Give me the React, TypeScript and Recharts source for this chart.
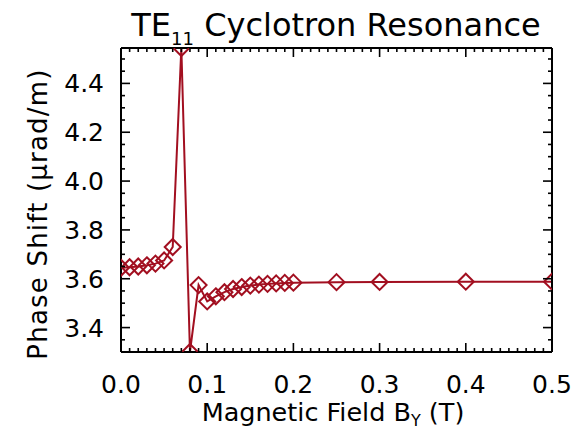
import { LineChart, Line, XAxis, YAxis } from "recharts";

// Magnetic field B_Y (T) and phase shift (µrad/m)
const fieldT = [
  0, 0.01, 0.02, 0.03, 0.04, 0.05, 0.06, 0.07, 0.08, 0.09, 0.1, 0.11, 0.12,
  0.13, 0.14, 0.15, 0.16, 0.17, 0.18, 0.19, 0.2, 0.25, 0.3, 0.4, 0.5,
];
const phaseShift = [
  3.645, 3.647, 3.65, 3.655, 3.662, 3.675, 3.73, 4.545, 3.3, 3.574, 3.507,
  3.528, 3.545, 3.558, 3.566, 3.572, 3.576, 3.579, 3.581, 3.583, 3.584, 3.586,
  3.587, 3.588, 3.588,
];

const xMajorTicks = [0, 0.1, 0.2, 0.3, 0.4, 0.5];
const yMajorTicks = [3.4, 3.6, 3.8, 4.0, 4.2, 4.4];
const xDomain: [number, number] = [0, 0.5];
const yDomain: [number, number] = [3.3, 4.545];
const xMinorStep = 0.01;
const yMinorStep = 0.05;

const RED = "#A20F20";
const FONT = "'DejaVu Sans', sans-serif";

const data = fieldT.map((x, i) => ({ x, y: phaseShift[i] }));

function stepTicks(lo: number, hi: number, step: number) {
  const out: number[] = [];
  const n = Math.floor((hi - lo) / step + 1e-6);
  for (let i = 0; i <= n; i++) out.push(Math.round((lo + i * step) * 1000) / 1000);
  return out;
}
const xTicks = stepTicks(xDomain[0], xDomain[1], xMinorStep);
const yTicks = stepTicks(yDomain[0], yDomain[1], yMinorStep);

const isMajor = (v: number, majors: number[]) =>
  majors.some((m) => Math.abs(m - v) < 1e-6);

const MAJOR = 9;
const MINOR = 4;

// inward IDL-style ticks, labels only on the bottom / left majors
function Tick(props: any) {
  const { x, y, payload, side } = props;
  const v = payload.value as number;
  const major = isMajor(v, side === "bottom" || side === "top" ? xMajorTicks : yMajorTicks);
  const len = major ? MAJOR : MINOR;
  const ln = { stroke: "#000", strokeWidth: 1.6 };
  let line;
  if (side === "bottom") line = <line {...ln} x1={x} x2={x} y1={y} y2={y - len} />;
  else if (side === "top") line = <line {...ln} x1={x} x2={x} y1={y} y2={y + len} />;
  else if (side === "left") line = <line {...ln} x1={x} x2={x + len} y1={y} y2={y} />;
  else line = <line {...ln} x1={x} x2={x - len} y1={y} y2={y} />;
  return (
    <g>
      {line}
      {major && side === "bottom" && (
        <text x={x} y={y + 41} textAnchor="middle" fontSize={25} fill="#000" fontFamily={FONT}>
          {v.toFixed(1)}
        </text>
      )}
      {major && side === "left" && (
        <text x={x - 17} y={y + 9} textAnchor="end" fontSize={25} fill="#000" fontFamily={FONT}>
          {v.toFixed(1)}
        </text>
      )}
    </g>
  );
}

function Diamond(props: any) {
  const { cx, cy, index } = props;
  const r = 8;
  return (
    <path
      key={index}
      d={`M${cx},${cy - r}L${cx + r},${cy}L${cx},${cy + r}L${cx - r},${cy}Z`}
      fill="none"
      stroke={RED}
      strokeWidth={2}
    />
  );
}

export default function App() {
  const axisLine = { stroke: "#000", strokeWidth: 2 };
  return (
    <div style={{ position: "absolute", left: 0, top: 0, width: 583, height: 431, background: "#fff" }}>
      <LineChart
        width={583}
        height={431}
        data={data}
        margin={{ top: 47, right: 30, bottom: 0, left: 0 }}
      >
        <XAxis
          xAxisId="b"
          dataKey="x"
          type="number"
          domain={xDomain}
          ticks={xTicks}
          interval={0}
          allowDataOverflow
          height={79}
          tickSize={0}
          tickMargin={0}
          axisLine={axisLine}
          tickLine={false}
          tick={(p: any) => <Tick {...p} side="bottom" />}
        />
        <XAxis
          xAxisId="t"
          dataKey="x"
          orientation="top"
          type="number"
          domain={xDomain}
          ticks={xTicks}
          interval={0}
          allowDataOverflow
          height={1}
          tickSize={0}
          tickMargin={0}
          axisLine={axisLine}
          tickLine={false}
          tick={(p: any) => <Tick {...p} side="top" />}
        />
        <YAxis
          yAxisId="l"
          dataKey="y"
          type="number"
          domain={yDomain}
          ticks={yTicks}
          interval={0}
          allowDataOverflow
          width={121}
          tickSize={0}
          tickMargin={0}
          axisLine={axisLine}
          tickLine={false}
          tick={(p: any) => <Tick {...p} side="left" />}
        />
        <YAxis
          yAxisId="r"
          dataKey="y"
          orientation="right"
          type="number"
          domain={yDomain}
          ticks={yTicks}
          interval={0}
          allowDataOverflow
          width={1}
          tickSize={0}
          tickMargin={0}
          axisLine={axisLine}
          tickLine={false}
          tick={(p: any) => <Tick {...p} side="right" />}
        />
        <Line
          xAxisId="b"
          yAxisId="l"
          type="linear"
          dataKey="y"
          stroke={RED}
          strokeWidth={2}
          dot={(p: any) => <Diamond {...p} />}
          activeDot={false}
          isAnimationActive={false}
        />
        {/* invisible twin so the top / right axes get drawn */}
        <Line
          xAxisId="t"
          yAxisId="r"
          type="linear"
          dataKey="y"
          stroke="none"
          dot={false}
          activeDot={false}
          isAnimationActive={false}
        />
      </LineChart>
      <svg
        width={583}
        height={431}
        style={{ position: "absolute", left: 0, top: 0, pointerEvents: "none" }}
        fontFamily={FONT}
      >
        <text x={336} y={36} textAnchor="middle" fontSize={32} fill="#000">
          TE
          <tspan fontSize={18} dy={9}>11</tspan>
          <tspan dy={-9}> Cyclotron Resonance</tspan>
        </text>
        <text x={333} y={421} textAnchor="middle" fontSize={25.5} fill="#000">
          Magnetic Field B
          <tspan fontSize={16} dy={5}>Y</tspan>
          <tspan dy={-5}> (T)</tspan>
        </text>
        <text
          x={47}
          y={214}
          textAnchor="middle"
          fontSize={26}
          letterSpacing={1.2}
          fill="#000"
          transform="rotate(-90 47 214)"
        >
          Phase Shift (μrad/m)
        </text>
      </svg>
    </div>
  );
}
